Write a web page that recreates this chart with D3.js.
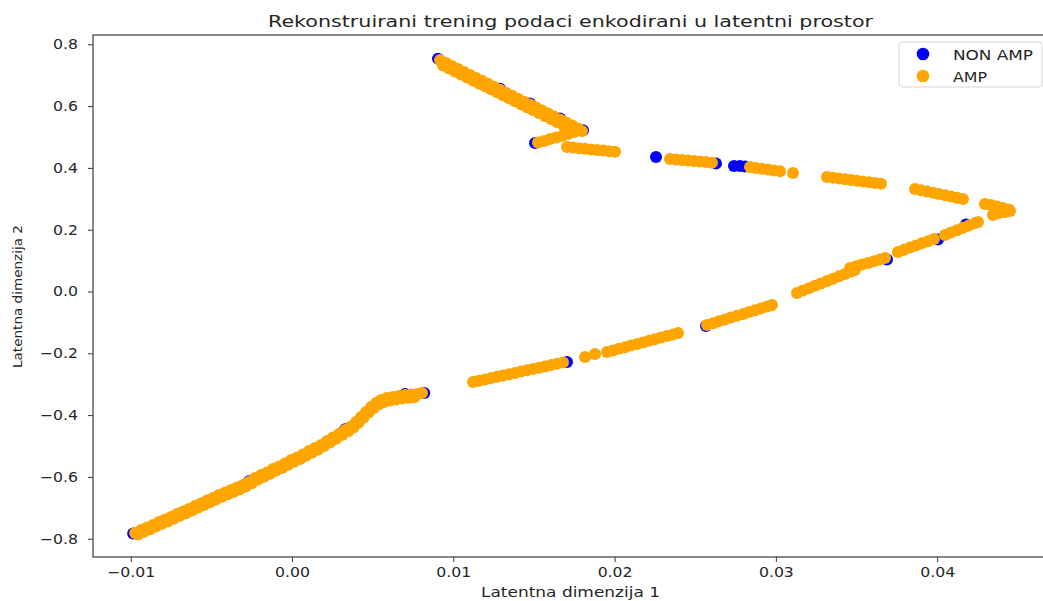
<!DOCTYPE html>
<html>
<head>
<meta charset="utf-8">
<script src="https://cdn.jsdelivr.net/npm/d3@7"></script>
<style>
  html, body { margin: 0; padding: 0; background: #fff; overflow: hidden; }
  svg { display: block; font-family: "DejaVu Sans", sans-serif; }
</style>
</head>
<body>
<svg id="chart" width="1043" height="601"></svg>
<script>
// ---------------- DATA ----------------
const chartTitle = "Rekonstruirani trening podaci enkodirani u latentni prostor";
const xLabel = "Latentna dimenzija 1";
const yLabel = "Latentna dimenzija 2";
const seriesNames = ["NON AMP", "AMP"];
const seriesColors = ["#0000ff", "#ffa500"];
const xTicks = [-0.01, 0.00, 0.01, 0.02, 0.03, 0.04];
const xTickLabels = ["\u22120.01", "0.00", "0.01", "0.02", "0.03", "0.04"];
const yTicks = [-0.8, -0.6, -0.4, -0.2, 0.0, 0.2, 0.4, 0.6, 0.8];
const yTickLabels = ["\u22120.8", "\u22120.6", "\u22120.4", "\u22120.2", "0.0", "0.2", "0.4", "0.6", "0.8"];
const xDomain = [-0.01234, 0.04712];
const yDomain = [-0.8592, 0.8301];

// NON AMP points (mostly hidden under AMP)
const nonAmp = [
  [-0.00985,-0.7830],[-0.00267,-0.6140],[0.00329,-0.4460],[0.00701,-0.3320],[0.00820,-0.3285],
  [0.00905,0.7530],[0.012895,0.6560],[0.014755,0.6081],[0.016615,0.5598],[0.018040,0.5215],
  [0.015065,0.4806],[0.022567,0.4353],[0.026286,0.4142],[0.027402,0.4061],[0.027774,0.4061],
  [0.028084,0.4045],[0.017049,-0.2282],[0.036888,0.1036],[0.040050,0.1683],[0.025666,-0.1117],
  [0.041786,0.2168]
];

// AMP points
const amp = [
  // lower-left band
  [-0.00973,-0.7816],[-0.00936,-0.7718],[-0.00899,-0.7638],[-0.00862,-0.7557],[-0.00825,-0.7460],
  [-0.00787,-0.7379],[-0.00750,-0.7298],[-0.00713,-0.7201],[-0.00676,-0.7120],[-0.00639,-0.7039],
  [-0.00601,-0.6942],[-0.00564,-0.6861],[-0.00527,-0.6764],[-0.00490,-0.6683],[-0.00453,-0.6586],
  [-0.00415,-0.6505],[-0.00378,-0.6424],[-0.00341,-0.6343],[-0.00304,-0.6262],[-0.00267,-0.6165],
  [-0.00229,-0.6036],[-0.00192,-0.5939],[-0.00155,-0.5858],[-0.00118,-0.5744],[-0.00081,-0.5663],
  [-0.00043,-0.5566],[-0.00006,-0.5453],[0.00031,-0.5372],[0.00068,-0.5275],[0.00105,-0.5162],
  [0.00143,-0.5065],[0.00180,-0.4968],[0.00217,-0.4838],[0.00254,-0.4725],[0.00291,-0.4612],
  [0.00329,-0.4482],[0.00366,-0.4369],[0.00397,-0.4223],[0.00428,-0.4061],[0.00459,-0.3900],
  [0.00490,-0.3738],[0.00521,-0.3608],[0.00552,-0.3511],[0.00589,-0.3447],[0.00626,-0.3414],
  [0.00663,-0.3382],[0.00701,-0.3350],[0.00738,-0.3333],[0.00775,-0.3317],[0.00806,-0.3285],
  [-0.00955,-0.7864],[-0.00918,-0.7775],[-0.00881,-0.7695],[-0.00844,-0.7606],[-0.00806,-0.7517],
  [-0.00769,-0.7436],[-0.00732,-0.7347],[-0.00695,-0.7258],[-0.00658,-0.7177],[-0.00620,-0.7088],
  [-0.00583,-0.6999],[-0.00546,-0.6910],[-0.00509,-0.6821],[-0.00472,-0.6732],[-0.00434,-0.6643],
  [-0.00397,-0.6562],[-0.00360,-0.6481],[-0.00323,-0.6400],[-0.00286,-0.6311],[-0.00248,-0.6198],
  [-0.00211,-0.6085],[-0.00174,-0.5996],[-0.00137,-0.5898],[-0.00100,-0.5801],[-0.00062,-0.5712],
  [-0.00025,-0.5607],[0.00013,-0.5510],[0.00050,-0.5421],[0.00087,-0.5316],[0.00124,-0.5211],
  [0.00162,-0.5114],[0.00199,-0.5000],[0.00236,-0.4879],[0.00273,-0.4766],[0.00310,-0.4644],
  [0.00348,-0.4523],[0.00382,-0.4393],[0.00413,-0.4239],[0.00444,-0.4078],[0.00475,-0.3916],
  [0.00506,-0.3770],[0.00537,-0.3657],[0.00571,-0.3576],[0.00608,-0.3528],[0.00645,-0.3495],
  [0.00682,-0.3463],[0.00720,-0.3439],[0.00757,-0.3422],
  // upper-left diagonal
  [0.009175,0.7492],[0.009547,0.7395],[0.009919,0.7298],[0.010291,0.7201],[0.010663,0.7104],
  [0.011035,0.7010],[0.011407,0.6913],[0.011779,0.6819],[0.012151,0.6722],[0.012523,0.6625],
  [0.012895,0.6528],[0.013267,0.6434],[0.013639,0.6337],[0.014011,0.6239],[0.014383,0.6142],
  [0.014755,0.6049],[0.015127,0.5951],[0.015499,0.5854],[0.015871,0.5757],[0.016243,0.5660],
  [0.016615,0.5566],[0.016987,0.5469],[0.017359,0.5372],[0.017731,0.5278],
  [0.009361,0.7314],[0.009733,0.7217],[0.010105,0.7123],[0.010477,0.7026],[0.010849,0.6929],
  [0.011221,0.6832],[0.011593,0.6735],[0.011965,0.6641],[0.012337,0.6544],[0.012709,0.6447],
  [0.013081,0.6350],[0.013453,0.6256],[0.013825,0.6159],[0.014197,0.6061],[0.014569,0.5964],
  [0.014941,0.5871],[0.015313,0.5773],[0.015685,0.5676],[0.016057,0.5579],[0.016429,0.5485],
  [0.016801,0.5388],[0.017173,0.5291],
  // arrow branch
  [0.017979,0.5194],[0.017483,0.5162],[0.017111,0.5097],[0.016739,0.5032],[0.016367,0.4984],
  [0.015995,0.4935],[0.015623,0.4871],[0.015251,0.4822],
  // short segment near 0.46
  [0.017049,0.4676],[0.017421,0.4657],[0.017793,0.4638],[0.018165,0.4618],[0.018537,0.4599],
  [0.018909,0.4579],[0.019281,0.4560],[0.019653,0.4540],[0.020025,0.4521],
  // upper band segments
  [0.023435,0.4288],[0.023807,0.4272],[0.024179,0.4256],[0.024551,0.4239],[0.024923,0.4223],
  [0.025295,0.4207],[0.025667,0.4191],[0.026039,0.4165],
  [0.028394,0.4029],[0.028766,0.3997],[0.029138,0.3971],[0.029510,0.3945],[0.029882,0.3916],
  [0.030254,0.3890],[0.031060,0.3835],
  [0.033168,0.3706],[0.033540,0.3680],[0.033912,0.3657],[0.034284,0.3631],[0.034656,0.3608],
  [0.035028,0.3583],[0.035400,0.3560],[0.035772,0.3534],[0.036144,0.3511],[0.036516,0.3485],
  [0.038624,0.3317],[0.038996,0.3278],[0.039368,0.3236],[0.039740,0.3197],[0.040112,0.3155],
  [0.040484,0.3116],[0.040856,0.3074],[0.041228,0.3036],[0.041600,0.2994],
  // right tip
  [0.042963,0.2832],[0.043335,0.2799],[0.043707,0.2751],[0.044079,0.2702],[0.044451,0.2654],
  [0.044513,0.2605],[0.044203,0.2573],[0.043831,0.2540],[0.043459,0.2476],[0.044017,0.2638],
  // lower band segments (right to left)
  [0.040484,0.1828],[0.040856,0.1906],[0.041228,0.1984],[0.041600,0.2061],[0.041972,0.2139],
  [0.042344,0.2217],[0.042530,0.2249],
  [0.037570,0.1278],[0.037942,0.1350],[0.038314,0.1421],[0.038686,0.1489],[0.039058,0.1560],
  [0.039430,0.1628],[0.039802,0.1699],
  [0.031308,-0.0049],[0.031680,0.0029],[0.032052,0.0107],[0.032424,0.0184],[0.032796,0.0259],
  [0.033168,0.0337],[0.033540,0.0414],[0.033912,0.0492],[0.034284,0.0570],[0.034656,0.0647],
  [0.034904,0.0696],
  [0.034594,0.0761],[0.034966,0.0816],[0.035338,0.0871],[0.035710,0.0926],[0.036082,0.0981],
  [0.036454,0.1036],[0.036764,0.1084],
  [0.025728,-0.1084],[0.026100,-0.1026],[0.026472,-0.0964],[0.026844,-0.0906],[0.027216,-0.0845],
  [0.027588,-0.0786],[0.027960,-0.0725],[0.028332,-0.0667],[0.028704,-0.0605],[0.029076,-0.0547],
  [0.029448,-0.0485],[0.029758,-0.0437],
  [0.019529,-0.1958],[0.019901,-0.1906],[0.020273,-0.1854],[0.020645,-0.1803],[0.021017,-0.1751],
  [0.021389,-0.1699],[0.021761,-0.1647],[0.022133,-0.1595],[0.022505,-0.1544],[0.022877,-0.1492],
  [0.023249,-0.1440],[0.023621,-0.1388],[0.023931,-0.1343],
  [0.018165,-0.2120],[0.018785,-0.2023],
  [0.011221,-0.2929],[0.011593,-0.2887],[0.011965,-0.2845],[0.012337,-0.2803],[0.012709,-0.2761],
  [0.013081,-0.2718],[0.013453,-0.2676],[0.013825,-0.2634],[0.014197,-0.2592],[0.014569,-0.2550],
  [0.014941,-0.2508],[0.015313,-0.2466],[0.015685,-0.2424],[0.016057,-0.2382],[0.016429,-0.2340],
  [0.016801,-0.2298]
];

// ---------------- CHART ----------------
const svg = d3.select("#chart");
const plot = { left: 93, top: 35, right: 1052, bottom: 557 };

const x = d3.scaleLinear().domain(xDomain).range([plot.left, plot.right]);
const y = d3.scaleLinear().domain(yDomain).range([plot.bottom, plot.top]);

const textColor = "#262626";
const spineColor = "#3a3a3a";
const R = 6;

function stretch(sel, target) {
  sel.each(function () {
    const w = this.getComputedTextLength();
    const t = typeof target === "function" ? target(w) : target;
    this.setAttribute("textLength", t);
    this.setAttribute("lengthAdjust", "spacingAndGlyphs");
  });
}

svg.append("defs").append("clipPath").attr("id", "clip")
  .append("rect").attr("x", plot.left).attr("y", plot.top)
  .attr("width", plot.right - plot.left).attr("height", plot.bottom - plot.top);

const gData = svg.append("g").attr("clip-path", "url(#clip)");
gData.selectAll("circle.non").data(nonAmp).enter().append("circle")
  .attr("class", "non").attr("cx", d => x(d[0])).attr("cy", d => y(d[1]))
  .attr("r", R).attr("fill", seriesColors[0]);
gData.selectAll("circle.amp").data(amp).enter().append("circle")
  .attr("class", "amp").attr("cx", d => x(d[0])).attr("cy", d => y(d[1]))
  .attr("r", R).attr("fill", seriesColors[1]);

// axes
const xAxis = d3.axisBottom(x).tickValues(xTicks).tickSize(5).tickPadding(5)
  .tickFormat((d, i) => xTickLabels[i]);
const yAxis = d3.axisLeft(y).tickValues(yTicks).tickSize(5).tickPadding(10)
  .tickFormat((d, i) => yTickLabels[i]);

const gx = svg.append("g").attr("transform", `translate(0,${plot.bottom})`).call(xAxis);
const gy = svg.append("g").attr("transform", `translate(${plot.left},0)`).call(yAxis);
[gx, gy].forEach(g => {
  g.select(".domain").remove();
  g.selectAll(".tick line").attr("stroke", spineColor).attr("stroke-width", 1);
  g.selectAll(".tick text").attr("fill", textColor).style("font-size", "14px")
    .style("font-family", "'DejaVu Sans', sans-serif");
  stretch(g.selectAll(".tick text"), w => w * 1.12);
});

// spines
svg.append("rect").attr("x", plot.left).attr("y", plot.top)
  .attr("width", plot.right - plot.left).attr("height", plot.bottom - plot.top)
  .attr("fill", "none").attr("stroke", spineColor).attr("stroke-width", 1.2);

// title
const title = svg.append("text").attr("x", 570.5).attr("y", 26.5).attr("text-anchor", "middle")
  .attr("fill", textColor).style("font-size", "16px").text(chartTitle);
stretch(title, 605);

// axis labels
const xl = svg.append("text").attr("x", 570.5).attr("y", 597).attr("text-anchor", "middle")
  .attr("fill", textColor).style("font-size", "14px").text(xLabel);
stretch(xl, 179);
const yl = svg.append("text").attr("transform", "translate(22,296.5) rotate(-90)")
  .attr("text-anchor", "middle").attr("fill", textColor)
  .style("font-size", "13px").text(yLabel);
stretch(yl, 143);

// legend
const lg = svg.append("g");
lg.append("rect").attr("x", 899).attr("y", 42).attr("width", 143).attr("height", 45)
  .attr("rx", 3).attr("fill", "#fff").attr("fill-opacity", 0.8)
  .attr("stroke", "#d6d6d6").attr("stroke-width", 1);
const legendWidths = [80, 34];
seriesNames.forEach((name, i) => {
  const yy = 54 + i * 22;
  lg.append("circle").attr("cx", 923).attr("cy", yy).attr("r", 6.3).attr("fill", seriesColors[i]);
  const t = lg.append("text").attr("x", 953).attr("y", yy + 5.5).attr("fill", textColor)
    .style("font-size", "14px").text(name);
  stretch(t, legendWidths[i]);
});
</script>
</body>
</html>
